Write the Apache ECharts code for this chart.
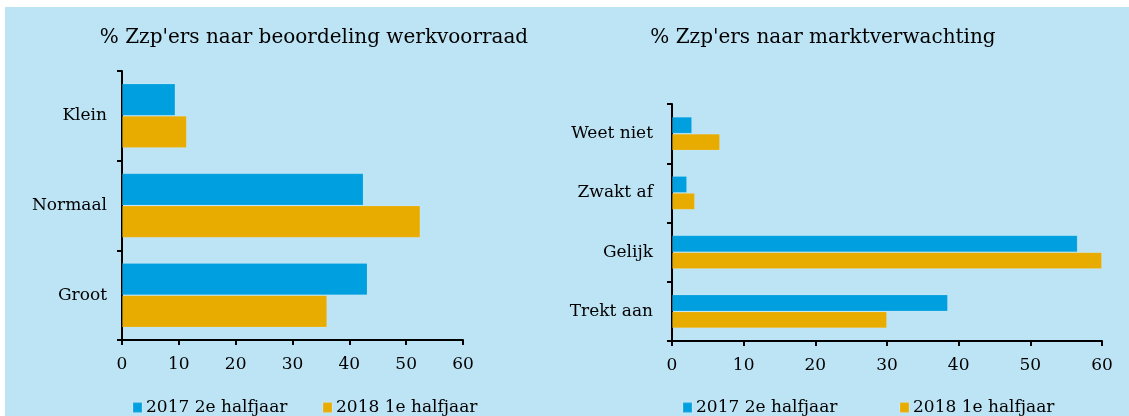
<!DOCTYPE html>
<html>
<head>
<meta charset="utf-8">
<script src="https://cdn.jsdelivr.net/npm/echarts@6/dist/echarts.min.js"></script>
<style>
  html, body { margin: 0; padding: 0; background: #fff; }
  #main { position: absolute; left: 5px; top: 7px; width: 1124px; height: 409px; }
</style>
</head>
<body>
<div id="main"></div>
<script>
// data
var seriesNames = ['2017 2e halfjaar', '2018 1e halfjaar']
var werkCats = ['Groot', 'Normaal', 'Klein']
var werk2017 = [43.2, 42.5, 9.4]
var werk2018 = [36.1, 52.5, 11.4]
var marktCats = ['Trekt aan', 'Gelijk', 'Zwakt af', 'Weet niet']
var markt2017 = [38.5, 56.6, 2.1, 2.8]
var markt2018 = [30.0, 60.0, 3.2, 6.7]
var xTicks = [0, 10, 20, 30, 40, 50, 60]

var BLUE = '#009fdf'
var ORANGE = '#e8ac00'
var FONT = 'DejaVu Serif'

var chart = echarts.init(document.getElementById('main'))

function valueAxis (idx) {
  return {
    type: 'value',
    gridIndex: idx,
    min: xTicks[0],
    max: xTicks[xTicks.length - 1],
    interval: 10,
    axisLine: { show: true, lineStyle: { color: '#000', width: 2 } },
    axisTick: { show: true, length: 5, lineStyle: { color: '#000', width: 2 } },
    axisLabel: { color: '#000', fontFamily: FONT, fontSize: 17, margin: 16 },
    splitLine: { show: false }
  }
}

function catAxis (idx, cats, margin) {
  return {
    type: 'category',
    gridIndex: idx,
    data: cats,
    axisLine: { show: true, lineStyle: { color: '#000', width: 2 } },
    axisTick: { show: true, length: 5, lineStyle: { color: '#000', width: 2 } },
    axisLabel: { color: '#000', fontFamily: FONT, fontSize: 17, margin: margin }
  }
}

function barSeries (name, idx, data, color, gap) {
  return {
    name: name,
    type: 'bar',
    xAxisIndex: idx,
    yAxisIndex: idx,
    data: data,
    barGap: '0%',
    barCategoryGap: gap,
    itemStyle: { color: color, borderColor: 'rgba(255,255,255,0.12)', borderWidth: 1 },
    silent: true
  }
}

// one legend per item so each can be placed like the original
function legend (name, left) {
  return {
    left: left,
    top: 392,
    padding: 0,
    data: [name],
    icon: 'rect',
    itemWidth: 9,
    itemHeight: 10,
    itemGap: 0,
    textStyle: { color: '#000', fontFamily: FONT, fontSize: 17, padding: [0, 0, 0, -1] }
  }
}

chart.setOption({
  backgroundColor: '#bde4f5',
  animation: false,
  title: [
    { text: "% Zzp'ers naar beoordeling werkvoorraad", left: 304, top: 16, textAlign: 'center',
      textStyle: { fontFamily: FONT, fontWeight: 'normal', fontSize: 20, color: '#000' } },
    { text: "% Zzp'ers naar marktverwachting", left: 813, top: 16, textAlign: 'center',
      textStyle: { fontFamily: FONT, fontWeight: 'normal', fontSize: 20, color: '#000' } }
  ],
  legend: [
    legend(seriesNames[0], 127),
    legend(seriesNames[1], 317),
    legend(seriesNames[0], 677),
    legend(seriesNames[1], 894)
  ],
  grid: [
    { left: 117, top: 64, width: 341, height: 269 },
    { left: 667, top: 97, width: 430, height: 237 }
  ],
  xAxis: [valueAxis(0), valueAxis(1)],
  yAxis: [catAxis(0, werkCats, 15), catAxis(1, marktCats, 19)],
  series: [
    barSeries(seriesNames[0], 0, werk2017, BLUE, '28%'),
    barSeries(seriesNames[1], 0, werk2018, ORANGE, '28%'),
    barSeries(seriesNames[0], 1, markt2017, BLUE, '43%'),
    barSeries(seriesNames[1], 1, markt2018, ORANGE, '43%')
  ]
})
</script>
</body>
</html>
